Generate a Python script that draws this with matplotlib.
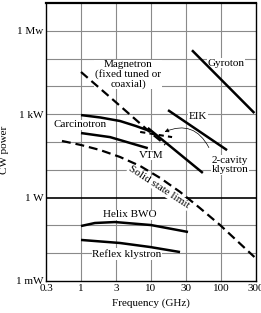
import matplotlib
matplotlib.use('Agg')
import matplotlib.pyplot as plt
import numpy as np

plt.rcParams['font.family'] = ['Liberation Serif', 'DejaVu Serif']
plt.rcParams['font.size'] = 8

# frequency in GHz, CW power in W
magnetron_f = [1.0, 3.0, 10.0, 16.0]
magnetron_p = [3.3e4, 3.0e3, 210, 80]

carcinotron_hi_f = [1.0, 1.9, 3.6, 6.0, 10.0]
carcinotron_hi_p = [930, 760, 570, 380, 240]
carcinotron_lo_f = [1.0, 2.6, 7.0, 9.0]
carcinotron_lo_p = [210, 150, 72, 60]

klystron2_f = [9.0, 20.0, 55.0]
klystron2_p = [320, 62, 7.7]

vtm_f = [7.0, 20.0]
vtm_p = [230, 150]

eik_f = [17.5, 122]
eik_p = [1400, 51]

gyroton_f = [38.5, 300]
gyroton_p = [2.0e5, 1100]

solid_f = [0.535, 1.0, 1.87, 3.6, 7.0, 13.5, 26, 50, 97, 300]
solid_p = [109, 78, 51.5, 29, 13.7, 5.1, 1.6, 0.42, 0.103, 0.0073]

helix_f = [1.0, 1.58, 3.06, 10.0, 33.8]
helix_p = [0.095, 0.122, 0.132, 0.103, 0.058]

reflex_f = [1.0, 3.6, 9.7, 26]
reflex_p = [0.030, 0.0233, 0.0167, 0.011]

xtick_vals = 10 ** (np.arange(-1, 6) / 2.0)
xtick_labels = ['0.3', '1', '3', '10', '30', '100', '300']
ytick_vals = [1e-3, 1, 1e3, 1e6]
ytick_labels = ['1 mW', '1 W', '1 kW', '1 Mw']

fig = plt.figure(figsize=(2.61, 3.13), dpi=100)
ax = fig.add_axes([46 / 261, 1 - 281 / 313, 210 / 261, 278 / 313])
ax.set_xscale('log')
ax.set_yscale('log')
ax.set_xlim(10 ** -0.5, 10 ** 2.5)
ax.set_ylim(1e-3, 1e7)

# grid
for x in xtick_vals[1:-1]:
	ax.axvline(x, color='#8a8a8a', lw=0.8, zorder=1)
for e in range(-2, 7):
	if e == 0:
		ax.axhline(1, color='black', lw=1.2, zorder=1)
	else:
		ax.axhline(10.0 ** e, color='#8a8a8a', lw=0.8, zorder=1)

solid = dict(color='black', lw=1.8, zorder=3, solid_capstyle='butt')
dash = dict(color='black', lw=1.6, zorder=3, dashes=(4, 2.2))

ax.plot(magnetron_f, magnetron_p, **dash)
ax.plot(carcinotron_hi_f, carcinotron_hi_p, **solid)
ax.plot(carcinotron_lo_f, carcinotron_lo_p, **solid)
ax.plot(klystron2_f, klystron2_p, **solid)
ax.plot(vtm_f, vtm_p, color='black', lw=1.5, zorder=3, dashes=(2.5, 2))
ax.plot(eik_f, eik_p, **solid)
ax.plot(gyroton_f, gyroton_p, **solid)
ax.plot(solid_f, solid_p, **dash)
ax.plot(helix_f, helix_p, **solid)
ax.plot(reflex_f, reflex_p, **solid)

box = dict(facecolor='white', edgecolor='none', pad=0.6)
lbl = dict(ha='center', va='center', zorder=2, bbox=box)
ax.text(118, 6.9e4, 'Gyroton', **lbl)
ax.text(4.7, 2.7e4, 'Magnetron\n(fixed tuned or\ncoaxial)', linespacing=1.0, **lbl)
ax.text(47, 800, 'EIK', **lbl)
ax.text(0.97, 410, 'Carcinotron', **lbl)
ax.text(10, 34, 'VTM', **lbl)
ax.text(134, 14.8, '2-cavity\nklystron', linespacing=1.0, **lbl)
ax.text(13, 2.4, 'Solid state limit', rotation=-33, rotation_mode='anchor', **lbl)
ax.text(5.0, 0.237, 'Helix BWO', **lbl)
ax.text(4.54, 0.0093, 'Reflex klystron', **lbl)

ax.annotate('', xy=(14.4, 210), xytext=(70, 51),
	arrowprops=dict(arrowstyle='-|>', color='black', lw=0.5,
		mutation_scale=6, connectionstyle='arc3,rad=0.5'), zorder=4)

ax.set_xticks(xtick_vals)
ax.set_xticklabels(xtick_labels)
ax.set_yticks(ytick_vals)
ax.set_yticklabels(ytick_labels)
ax.minorticks_off()
ax.tick_params(length=0, pad=2)
for s in ax.spines.values():
	s.set_linewidth(1.0)
	s.set_zorder(5)
ax.spines['top'].set_linewidth(1.6)

ax.set_xlabel('Frequency (GHz)', labelpad=4)
ax.set_ylabel('CW power')
ax.yaxis.set_label_coords(-0.175, 0.47)

fig.savefig('out.png', dpi=100)
